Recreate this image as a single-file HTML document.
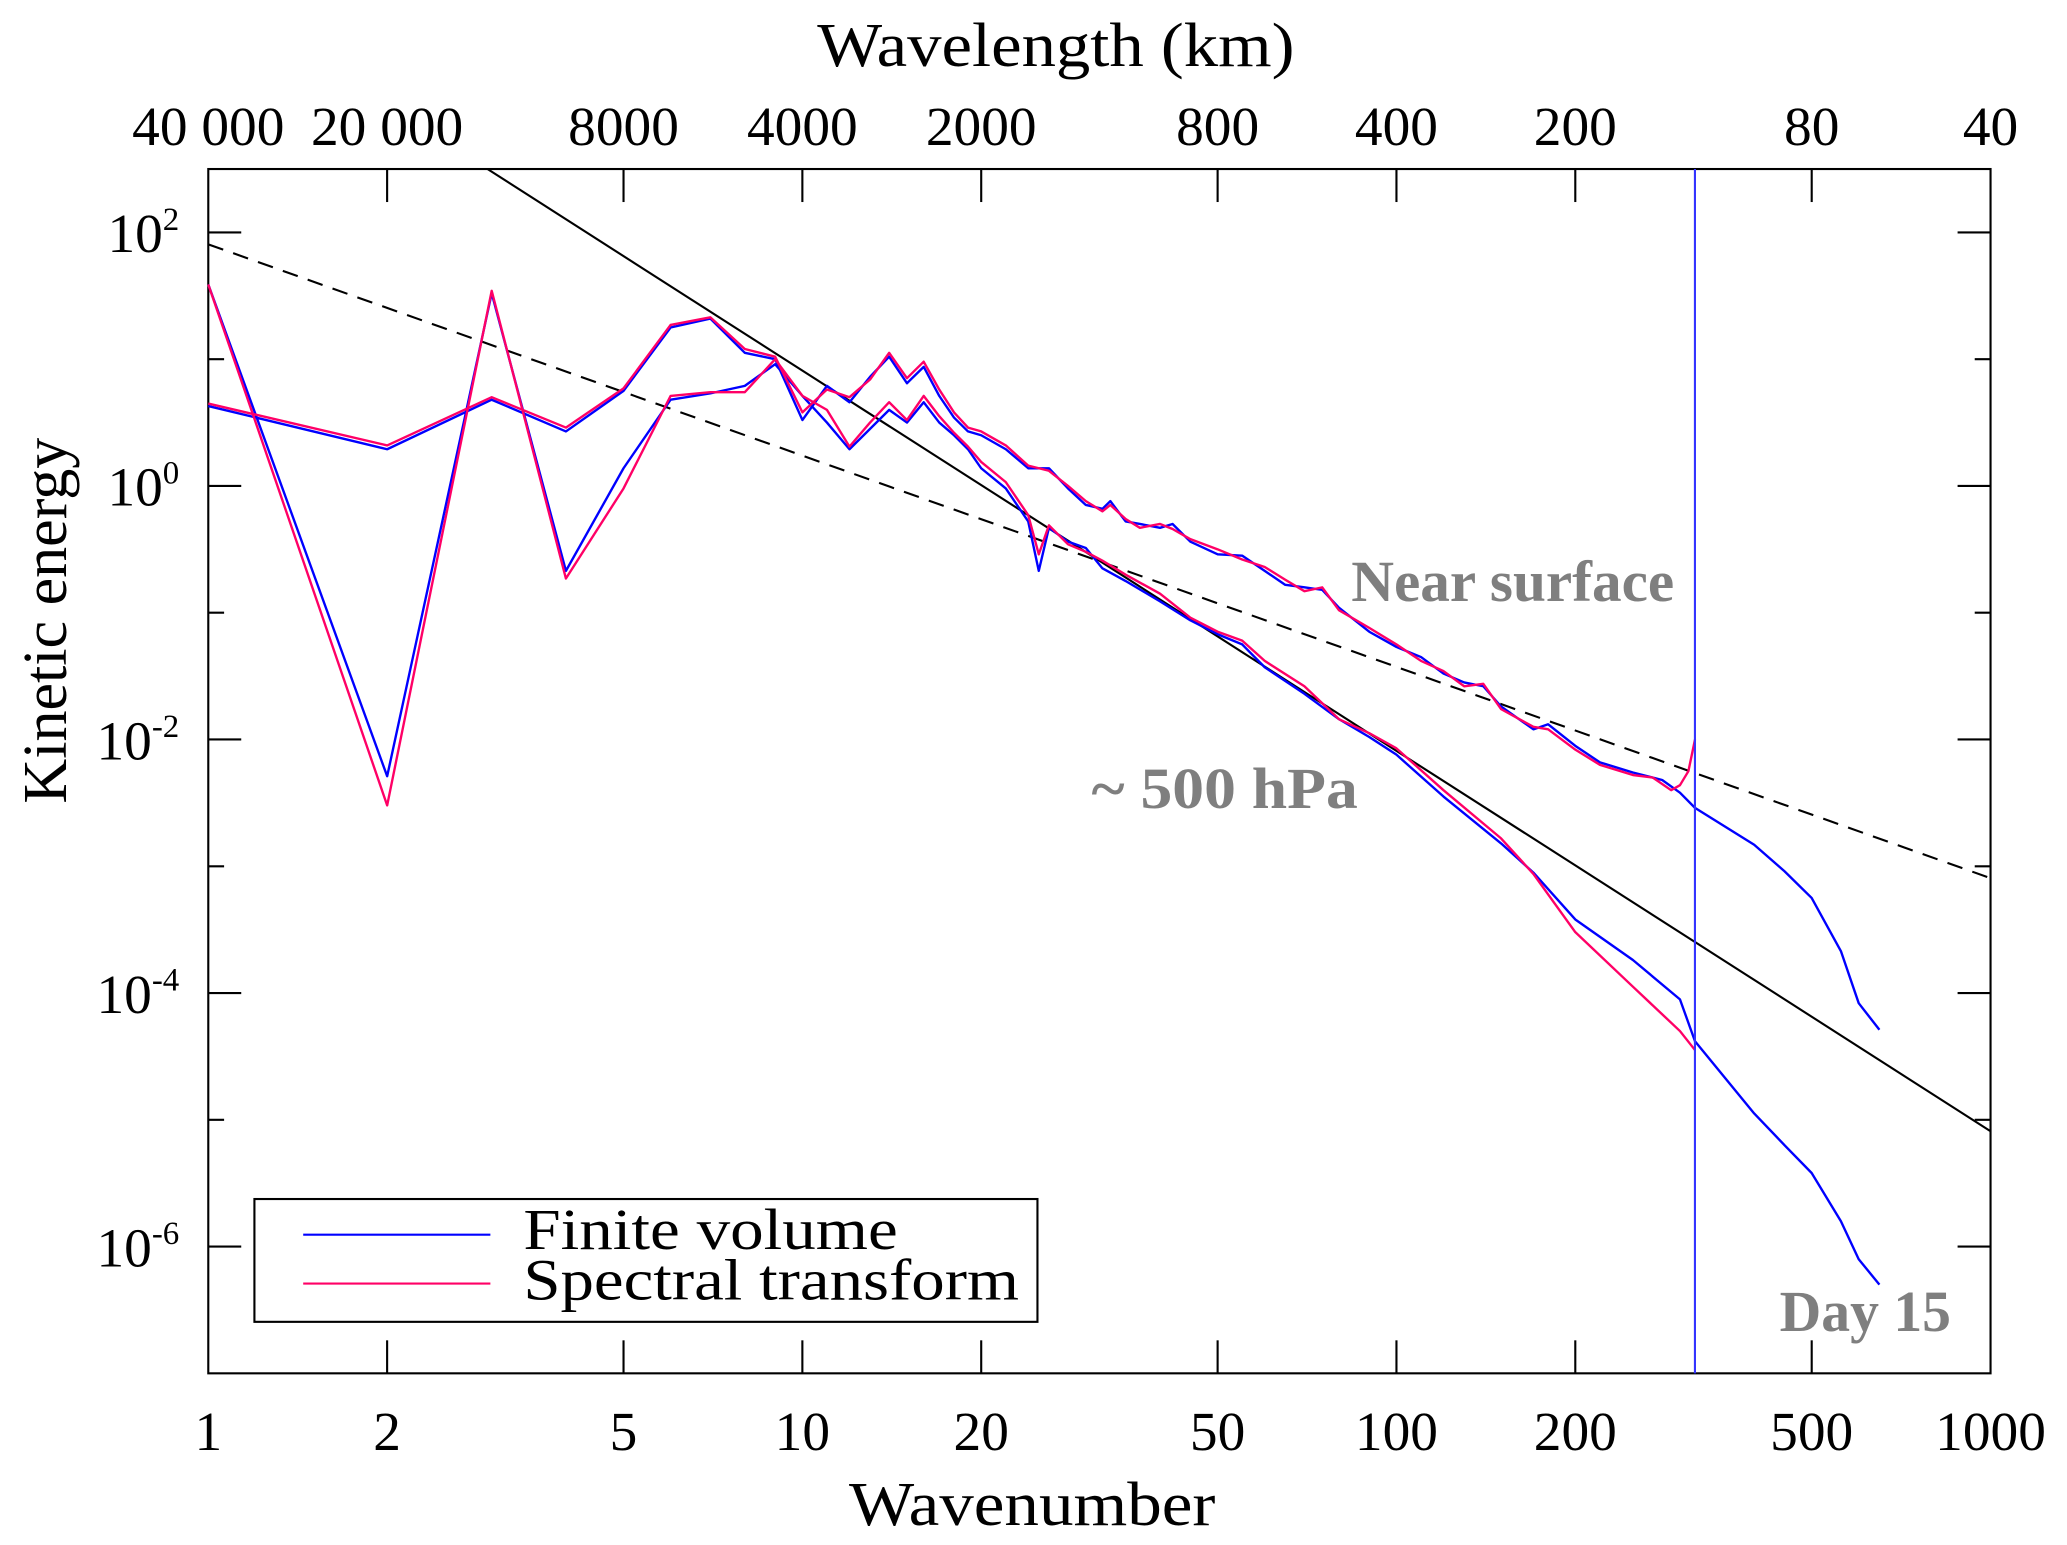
<!DOCTYPE html>
<html><head><meta charset="utf-8"><style>
html,body{margin:0;padding:0;background:#fff;}
svg{display:block;}
text{font-family:"Liberation Serif",serif;}
</style></head><body>
<svg id="chart" width="2067" height="1545" viewBox="0 0 1568 1170" preserveAspectRatio="none" xmlns="http://www.w3.org/2000/svg">
<rect x="158" y="128" width="1352" height="912" fill="#fff" stroke="#000" stroke-width="1.6"/>
<g id="ticks"></g>
<g id="lines"></g>
<text x="620" y="50" font-size="47" textLength="362" lengthAdjust="spacingAndGlyphs">Wavelength (km)</text>
<text x="644" y="1155" font-size="47" textLength="278" lengthAdjust="spacingAndGlyphs">Wavenumber</text>
<text x="0" y="0" font-size="47" text-anchor="middle" transform="translate(50,470) rotate(-90)">Kinetic energy</text>
<text x="1025" y="455" font-size="44" font-weight="bold" fill="#7f7f7f" textLength="245" lengthAdjust="spacingAndGlyphs">Near surface</text>
<text x="828" y="612" font-size="44" font-weight="bold" fill="#7f7f7f" textLength="202" lengthAdjust="spacingAndGlyphs">~ 500 hPa</text>
<text x="1350" y="1008" font-size="44" font-weight="bold" fill="#7f7f7f" textLength="130" lengthAdjust="spacingAndGlyphs">Day 15</text>
<g>
<rect x="193" y="908" width="594" height="93" fill="#fff" stroke="#000" stroke-width="1.6"/>
<line x1="230" y1="935" x2="372" y2="935" stroke="#0000ff" stroke-width="1.6"/>
<text x="397" y="946" font-size="44" textLength="284" lengthAdjust="spacingAndGlyphs">Finite volume</text>
<line x1="230" y1="972" x2="372" y2="972" stroke="#ff0066" stroke-width="1.6"/>
<text x="397" y="984" font-size="44" textLength="376" lengthAdjust="spacingAndGlyphs">Spectral transform</text>
</g>
</svg>
<script>
const xTicks = [1,2,5,10,20,50,100,200,500,1000];
const topTickLabels = ["40 000","20 000","8000","4000","2000","800","400","200","80","40"];
const yDecades = [2,1,0,-1,-2,-3,-4,-5,-6];
const yLabeledDecades = [2,0,-2,-4,-6];
const cutoffK = 318;

const kSurfFV = [1,2,3,4,5,6,7,8,9,10,11,12,13,14,15,16,17,18,19,20,22,24,26,28,30,32,33,35,37,40,42,45,50,55,60,65,70,75,80,90,100,110,120,130,140,150,170,180,200,220,250,280,300,318,400,450,500,560,600,650];
const logSurfFV = [0.63,0.29,0.68,0.43,0.75,1.25,1.32,1.05,1.00,0.52,0.79,0.66,0.86,1.02,0.81,0.94,0.71,0.54,0.43,0.40,0.29,0.14,0.14,-0.02,-0.15,-0.18,-0.12,-0.28,-0.30,-0.33,-0.30,-0.44,-0.54,-0.55,-0.67,-0.78,-0.80,-0.82,-0.96,-1.15,-1.27,-1.35,-1.48,-1.55,-1.58,-1.74,-1.92,-1.88,-2.05,-2.18,-2.26,-2.32,-2.42,-2.54,-2.83,-3.04,-3.25,-3.67,-4.08,-4.29];
const kSurfST = [1,2,3,4,5,6,7,8,9,10,11,12,13,14,15,16,17,18,19,20,22,24,26,28,30,32,33,35,37,40,42,45,50,55,60,65,70,75,80,90,100,110,120,130,140,150,170,180,200,220,250,270,290,300,310,318];
const logSurfST = [0.65,0.32,0.70,0.46,0.77,1.27,1.33,1.08,1.02,0.58,0.76,0.70,0.84,1.05,0.85,0.98,0.76,0.58,0.46,0.43,0.32,0.16,0.12,0.00,-0.12,-0.20,-0.15,-0.26,-0.33,-0.30,-0.34,-0.42,-0.50,-0.58,-0.64,-0.74,-0.83,-0.80,-0.98,-1.12,-1.25,-1.38,-1.46,-1.58,-1.56,-1.76,-1.90,-1.92,-2.08,-2.20,-2.28,-2.30,-2.40,-2.36,-2.25,-2.00];
const k500FV = [1,2,3,4,5,6,7,8,9,10,11,12,13,14,15,16,17,18,19,20,22,24,25,26,28,30,32,35,40,45,50,55,60,70,80,90,100,120,150,170,200,250,300,318,400,450,500,560,600,650];
const log500FV = [1.59,-2.29,1.52,-0.67,0.14,0.68,0.73,0.79,0.96,0.71,0.50,0.29,0.45,0.60,0.50,0.66,0.50,0.40,0.29,0.14,-0.02,-0.28,-0.67,-0.33,-0.44,-0.49,-0.65,-0.75,-0.91,-1.06,-1.17,-1.25,-1.43,-1.64,-1.84,-1.98,-2.12,-2.45,-2.82,-3.05,-3.42,-3.74,-4.05,-4.38,-4.95,-5.20,-5.42,-5.80,-6.10,-6.30];
const k500ST = [1,2,3,4,5,6,7,8,9,10,11,12,13,14,15,16,17,18,19,20,22,24,25,26,28,30,32,35,40,45,50,55,60,70,80,90,100,120,150,170,200,250,300,318];
const log500ST = [1.59,-2.52,1.54,-0.73,-0.02,0.71,0.74,0.74,1.00,0.71,0.60,0.31,0.50,0.66,0.52,0.71,0.55,0.42,0.31,0.19,0.03,-0.23,-0.54,-0.31,-0.46,-0.52,-0.59,-0.70,-0.85,-1.04,-1.15,-1.22,-1.38,-1.58,-1.84,-1.95,-2.07,-2.40,-2.78,-3.06,-3.52,-3.95,-4.30,-4.45];
const slopeSolid = -3, logSolidAt1000 = -5.09;
const slopeDashed = -5/3, logDashedAt1 = 1.906;

const NS = "http://www.w3.org/2000/svg";
const X0 = 158, X1 = 1510, Y0 = 128, Y1 = 1040;
function xs(k){ return X0 + (X1-X0)/3*Math.log10(k); }
function ys(l){ return 368 - 96*l; }
function mk(tag, attrs, parent){ const e=document.createElementNS(NS,tag); for(const a in attrs) e.setAttribute(a,attrs[a]); parent.appendChild(e); return e; }
const ticksG = document.getElementById('ticks');
const linesG = document.getElementById('lines');

xTicks.forEach((k,i)=>{
  const x = xs(k);
  if(k>1 && k<1000){
    const t1 = mk('line',{x1:x,y1:Y1,x2:x,y2:Y1-25,stroke:'#000','stroke-width':1.6},ticksG);
    
    
    const t2 = mk('line',{x1:x,y1:Y0,x2:x,y2:Y0+25,stroke:'#000','stroke-width':1.6},ticksG);
    
    
  }
  const lb = mk('text',{x:x,y:1098,'font-size':42,'text-anchor':'middle'},ticksG);
  lb.textContent = String(k);
  
  
  const lt = mk('text',{x:x,y:110,'font-size':42,'text-anchor':'middle'},ticksG);
  lt.textContent = topTickLabels[i];
  
  
});
yDecades.forEach(d=>{
  const y = ys(d);
  const len = yLabeledDecades.includes(d) ? 25 : 12;
  const a = mk('line',{x1:X0,y1:y,x2:X0+len,y2:y,stroke:'#000','stroke-width':1.6},ticksG);
  
  
  const b = mk('line',{x1:X1,y1:y,x2:X1-len,y2:y,stroke:'#000','stroke-width':1.6},ticksG);
  
  
});
yLabeledDecades.forEach(d=>{
  const t = mk('text',{x:136,y:ys(d)+15,'font-size':42,'text-anchor':'end'},ticksG);
  
  
  t.appendChild(document.createTextNode('10'));
  const s = mk('tspan',{dy:-17,'font-size':25},t);
  s.textContent = String(d);
});

function series(ks, ls, color, name){
  const pts = ks.map((k,i)=>xs(k).toFixed(1)+','+ys(ls[i]).toFixed(1)).join(' ');
  const p = mk('polyline',{points:pts,fill:'none',stroke:color,'stroke-width':1.8,'stroke-linejoin':'round'},linesG);
  
  
}
function powerLine(slope, refK, refL, dash, name){
  const l = k => refL + slope*(Math.log10(k)-Math.log10(refK));
  let kStart = 1;
  const lTop = (368-Y0)/96;
  if(l(1) > lTop) kStart = Math.pow(10, Math.log10(refK) + (lTop-refL)/slope);
  const p = mk('line',{x1:xs(kStart),y1:ys(l(kStart)),x2:xs(1000),y2:ys(l(1000)),stroke:'#000','stroke-width':1.6},linesG);
  if(dash) p.setAttribute('stroke-dasharray','12,8');
  
  
}
powerLine(slopeSolid, 1000, logSolidAt1000, false, 'k-minus-3-reference-line');
powerLine(slopeDashed, 1, logDashedAt1, true, 'k-minus-5-3-reference-line');
series(kSurfFV, logSurfFV, '#0000ff', 'finite-volume-near-surface-line');
series(k500FV, log500FV, '#0000ff', 'finite-volume-500hpa-line');
series(kSurfST, logSurfST, '#ff0066', 'spectral-transform-near-surface-line');
series(k500ST, log500ST, '#ff0066', 'spectral-transform-500hpa-line');
const vc = mk('line',{x1:xs(cutoffK),y1:Y0,x2:xs(cutoffK),y2:Y1,stroke:'#3333ff','stroke-width':1.6},linesG);


</script>
</body></html>
